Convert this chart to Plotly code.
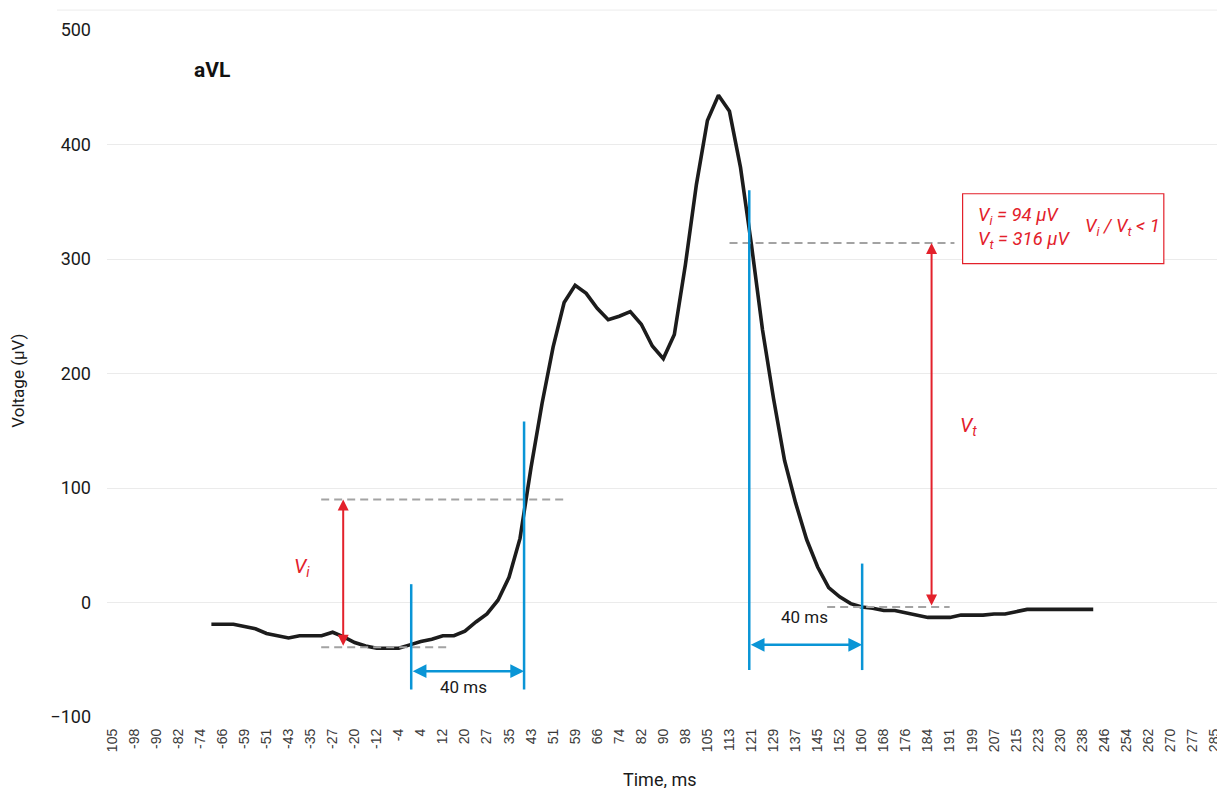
import plotly.graph_objects as go

# ---- data ----
time_ms = [-70.31, -66.41, -62.5, -58.59, -54.69, -50.78, -46.88, -42.97, -39.06, -35.16,
           -31.25, -27.34, -23.44, -19.53, -15.63, -11.72, -7.81, -3.91, 0.0, 3.91,
           7.81, 11.72, 15.63, 19.53, 23.44, 27.34, 31.25, 35.16, 39.06, 42.97,
           46.88, 50.78, 54.69, 58.59, 62.5, 66.41, 70.31, 74.22, 78.13, 82.03,
           85.94, 89.84, 93.75, 97.66, 101.56, 105.47, 109.38, 113.28, 117.19, 121.09,
           125.0, 128.91, 132.81, 136.72, 140.63, 144.53, 148.44, 152.34, 156.25, 160.16,
           164.06, 167.97, 171.88, 175.78, 179.69, 183.59, 187.5, 191.41, 195.31, 199.22,
           203.13, 207.03, 210.94, 214.84, 218.75, 222.66, 226.56, 230.47, 234.38, 238.28,
           242.19]
voltage_uv = [-19, -19, -19, -21, -23, -27, -29, -31, -29, -29,
              -29, -26, -30, -35, -38, -40, -40, -40, -37, -34,
              -32, -29, -29, -25, -17, -10, 2, 22, 56, 118,
              174, 223, 262, 277, 270, 257, 247, 250, 254, 243,
              224, 213, 234, 295, 365, 421, 443, 429, 380, 312,
              238, 178, 124, 87, 55, 31, 13, 5, -1, -4,
              -5, -7, -7, -9, -11, -13, -13, -13, -11, -11,
              -11, -10, -10, -8, -6, -6, -6, -6, -6, -6,
              -6]

tick_ms = [-105.47, -97.66, -89.84, -82.03, -74.22, -66.41, -58.59, -50.78, -42.97, -35.16,
           -27.34, -19.53, -11.72, -3.91, 3.91, 11.72, 19.53, 27.34, 35.16, 42.97,
           50.78, 58.59, 66.41, 74.22, 82.03, 89.84, 97.66, 105.47, 113.28, 121.09,
           128.91, 136.72, 144.53, 152.34, 160.16, 167.97, 175.78, 183.59, 191.41, 199.22,
           207.03, 214.84, 222.66, 230.47, 238.28, 246.09, 253.91, 261.72, 269.53, 277.34,
           285.16]
tick_labels = ["105", "-98", "-90", "-82", "-74", "-66", "-59", "-51", "-43", "-35",
               "-27", "-20", "-12", "-4", "4", "12", "20", "27", "35", "43",
               "51", "59", "66", "74", "82", "90", "98", "105", "113", "121",
               "129", "137", "145", "152", "160", "168", "176", "184", "191", "199",
               "207", "215", "223", "230", "238", "246", "254", "262", "270", "277",
               "285"]

# measurement values
vi_top, vi_base = 90, -39
vt_top, vt_base = 314, -4
window_left = [0.5, 40.5]
window_right = [120.3, 160.3]

# ---- styles ----
COND = "Roboto, sans-serif"
RED = "#e3212b"
BLUE = "#0a95d6"
GRAY = "#a3a3a3"

fig = go.Figure()
fig.add_trace(go.Scatter(x=time_ms, y=voltage_uv, mode="lines",
                         line=dict(color="#1c1c1c", width=3.6), hoverinfo="skip",
                         showlegend=False))

shapes = []
# dashed reference levels
for x0, x1, y in [(-31.4, 54.4, vi_top), (-31.4, 13.8, vi_base),
                  (113.3, 193.0, vt_top), (147.9, 191.3, vt_base)]:
    shapes.append(dict(type="line", xref="x", yref="y", x0=x0, x1=x1, y0=y, y1=y,
                       line=dict(color=GRAY, width=2, dash="8px,5px")))
# blue vertical markers
for x, y0, y1 in [(window_left[0], -76, 16), (window_left[1], -76, 158),
                  (window_right[0], -59, 360), (window_right[1], -59, 34)]:
    shapes.append(dict(type="line", xref="x", yref="y", x0=x, x1=x, y0=y0, y1=y1,
                       line=dict(color=BLUE, width=2.5)))
# red box
shapes.append(dict(type="rect", xref="x", yref="y", x0=195.9, x1=267.2, y0=296, y1=357,
                   line=dict(color=RED, width=1.2), fillcolor="white", layer="above"))
# thin top line
shapes.append(dict(type="line", xref="paper", yref="paper", x0=-0.045, x1=1.0,
                   y0=1.029, y1=1.029, line=dict(color="#ececec", width=1)))

annotations = []
# red double arrows
for x, y0, y1 in [(-23.6, vi_base, vi_top), (184.9, vt_base, vt_top)]:
    annotations.append(dict(x=x, y=y1, ax=x, ay=y0, xref="x", yref="y", axref="x", ayref="y",
                            text="", showarrow=True, arrowhead=2, arrowside="end+start",
                            arrowsize=1.1, arrowwidth=2, arrowcolor=RED, standoff=0,
                            startstandoff=0))
# blue double arrows
for (x0, x1), y in [(window_left, -60), (window_right, -37)]:
    annotations.append(dict(x=x1, y=y, ax=x0, ay=y, xref="x", yref="y", axref="x", ayref="y",
                            text="", showarrow=True, arrowhead=2, arrowside="end+start",
                            arrowsize=1.1, arrowwidth=2.5, arrowcolor=BLUE, standoff=0,
                            startstandoff=0))

def txt(x, y, s, size=17, color="#1a1a1a", xanchor="center", **kw):
    d = dict(x=x, y=y, xref="x", yref="y", text=s, showarrow=False, xanchor=xanchor,
             yanchor="middle", font=dict(family=COND, size=size, color=color))
    d.update(kw)
    annotations.append(d)

txt(-70.2, 465, "<b>aVL</b>", size=21, color="#111111")
txt(19.1, -74, "40 ms")
txt(139.8, -13, "40 ms")
txt(-38.1, 31, "<i>V<sub>i</sub></i>", size=20, color=RED)
txt(198.0, 154, "<i>V<sub>t</sub></i>", size=20, color=RED)
txt(200.8, 327, "<i>V<sub>i</sub> = 94 µV</i><br><i>V<sub>t</sub> = 316 µV</i>",
    size=18.5, color=RED, xanchor="left", align="left")
txt(238.6, 328, "<i>V<sub>i</sub> / V<sub>t</sub> &lt; 1</i>", size=18.5, color=RED,
    xanchor="left")

# axis titles
annotations.append(dict(x=-0.0798, y=0.49, xref="paper", yref="paper", text="Voltage (µV)",
                        textangle=-90, showarrow=False, xanchor="center", yanchor="middle",
                        font=dict(family=COND, size=17, color="#1a1a1a")))
annotations.append(dict(x=0.498, y=-0.0914, xref="paper", yref="paper", text="Time, ms",
                        showarrow=False, xanchor="center", yanchor="middle",
                        font=dict(family=COND, size=18, color="#1a1a1a")))

# page body adds an 8 px offset; margins compensate so the plot area lands where the reference has it
fig.update_layout(
    width=1225, height=788,
    margin=dict(l=99, r=11, t=20, b=79),
    plot_bgcolor="white", paper_bgcolor="white",
    shapes=shapes, annotations=annotations,
    showlegend=False,
)
fig.update_xaxes(range=[-107.3, 286.4], tickmode="array", tickvals=tick_ms, ticktext=tick_labels,
                 tickangle=-90, showgrid=False, zeroline=False, showline=False, ticks="",
                 ticklabelstandoff=8,
                 tickfont=dict(family="Liberation Sans, Arial, sans-serif", size=14, color="#3a3a3a"))
fig.update_yaxes(range=[-100, 500], dtick=100, tick0=0, showgrid=True, gridcolor="#ebebeb",
                 gridwidth=1, zeroline=False, showline=False, ticks="", ticklabelstandoff=15,
                 tickfont=dict(family=COND, size=18, color="#1a1a1a"))

fig.write_html("out.html")
